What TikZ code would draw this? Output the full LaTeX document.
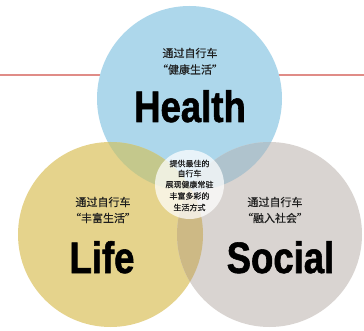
\documentclass[tikz,border=0pt]{standalone}
\usepackage{fontspec}
\setmainfont{Liberation Sans}
\newfontfamily\cjk[FakeBold=0.4]{Noto Sans CJK SC}
\newfontfamily\bigfont[FakeStretch=0.83,FakeBold=1.3]{Liberation Sans}
\definecolor{cblue}{RGB}{173,215,235}
\definecolor{cyellow}{RGB}{229,211,140}
\definecolor{cgray}{RGB}{217,212,209}
\definecolor{cby}{RGB}{196,200,140}
\definecolor{cbg}{RGB}{175,195,205}
\definecolor{cyg}{RGB}{205,185,133}
\definecolor{cred}{RGB}{224,140,135}
\definecolor{ctext}{RGB}{30,30,30}
\tikzset{
  bigword/.style={inner sep=0pt, anchor=base, text=black, font=\bigfont\bfseries\fontsize{44}{44}\selectfont},
  sublabel/.style={inner sep=0pt, anchor=center, text=ctext, font=\cjk\fontsize{11}{11}\selectfont},
  centerlabel/.style={inner sep=0pt, anchor=center, text=ctext, font=\cjk\fontsize{8}{8}\selectfont},
  redline/.style={draw=cred, line width=2pt}
}
\begin{document}
\begin{tikzpicture}[x=1pt,y=-1pt]
\useasboundingbox (0,0) rectangle (364,331);
\coordinate (hc) at (189.5,98.5);
\coordinate (lc) at (110.5,234.5);
\coordinate (sc) at (269.5,234.5);
\coordinate (cc) at (189.5,184.5);
\coordinate (rl) at (0,75);
\coordinate (rr) at (364,75);
\draw[redline] (rl) -- (rr);
\fill[cblue] (hc) circle (92.5);
\fill[cyellow] (lc) circle (92.5);
\fill[cgray] (sc) circle (92.5);
\begin{scope}
  \clip (hc) circle (92.5);
  \fill[cby] (lc) circle (92.5);
  \fill[cbg] (sc) circle (92.5);
\end{scope}
\begin{scope}
  \clip (lc) circle (92.5);
  \fill[cyg] (sc) circle (92.5);
\end{scope}
\fill[white, opacity=0.72] (cc) circle (34.5);
\node[sublabel] (h1) at (190,53) {通过自行车};
\node[sublabel] (h2) at (190,69.5) {“健康生活”};
\node[bigword] (hw) at (190,122) {Health};
\node[sublabel] (l1) at (103,202) {通过自行车};
\node[sublabel] (l2) at (103,218) {“丰富生活”};
\node[bigword] (lw) at (102,273) {Life};
\node[sublabel] (s1) at (275,202) {通过自行车};
\node[sublabel] (s2) at (275,218) {“融入社会”};
\node[bigword] (sw) at (280.5,273) {Social};
\node[centerlabel] (c1) at (189.5,163.5) {提供最佳的};
\node[centerlabel] (c2) at (189.5,173.5) {自行车};
\node[centerlabel] (c3) at (189.5,184.5) {展现健康常驻};
\node[centerlabel] (c4) at (189.5,196) {丰富多彩的};
\node[centerlabel] (c5) at (189.5,207.5) {生活方式};
\end{tikzpicture}
\end{document}
